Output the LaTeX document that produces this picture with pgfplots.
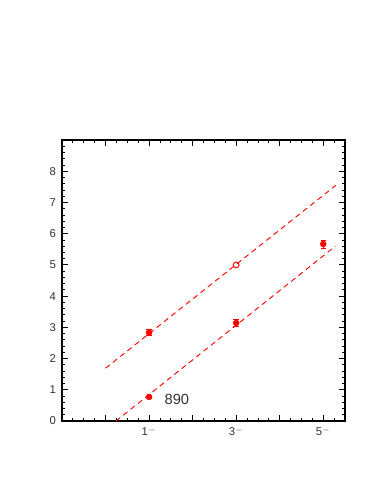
\documentclass[border=0pt]{standalone}
\usepackage{pgfplots}
\pgfplotsset{compat=1.18}
\usepackage{fontspec}
\setmainfont{Liberation Sans}
\begin{document}
\begin{tikzpicture}
  \useasboundingbox (0,0) rectangle (286.5pt,370.5pt);
  \begin{axis}[
      at={(46.5pt,54.75pt)},
      anchor=south west,
      scale only axis,
      width=212.25pt,
      height=210.75pt,
      xmin=-1, xmax=5.5,
      ymin=0, ymax=9,
      xtick={-1,0,...,6},
      xticklabels={,,1$^{-}$,,3$^{-}$,,5$^{-}$,},
      ytick={0,...,9},
      yticklabels={0,1,2,3,4,5,6,7,8,},
      minor x tick num=3,
      minor y tick num=4,
      tick align=inside,
      major tick length=4.5pt,
      minor tick length=2.3pt,
      tick style={black, line width=0.6pt},
      axis line style={black, line width=1.3pt},
      tick label style={font=\fontsize{8.5}{10}\selectfont, text=black!80},
      /pgf/number format/assume math mode=true,
      xticklabel style={yshift=-1pt},
      yticklabel style={xshift=-1pt},
  ]

  % dashed fits
  \addplot[red, line width=0.7pt, dash pattern=on 4pt off 3pt] coordinates {
    (0.0, 1.69) (5.29, 7.55)
  };
  \addplot[red, line width=0.7pt, dash pattern=on 4pt off 3pt] coordinates {
    (0.24, 0.0) (5.28, 5.60)
  };

  % measured states
  \addplot[red, only marks, mark=*, mark size=2.2pt,
           error bars/.cd, y dir=both, y explicit,
           error bar style={line width=0.6pt}, error mark options={rotate=90, mark size=2pt, line width=0.6pt}]
    coordinates {
    (1, 2.83) +- (0, 0.09)
    (1, 0.77) +- (0, 0.0)
    (3, 3.14) +- (0, 0.11)
    (5, 5.67) +- (0, 0.13)
  };

  % predicted state
  \addplot[red, only marks, mark=o, mark size=2.2pt, mark options={fill=white, line width=0.7pt}]
    coordinates { (3, 5.0) };

  \node[anchor=west, font=\fontsize{11}{13}\selectfont, text=black!80] at (axis cs:1.25,0.7) {890};
  \end{axis}
\end{tikzpicture}
\end{document}
